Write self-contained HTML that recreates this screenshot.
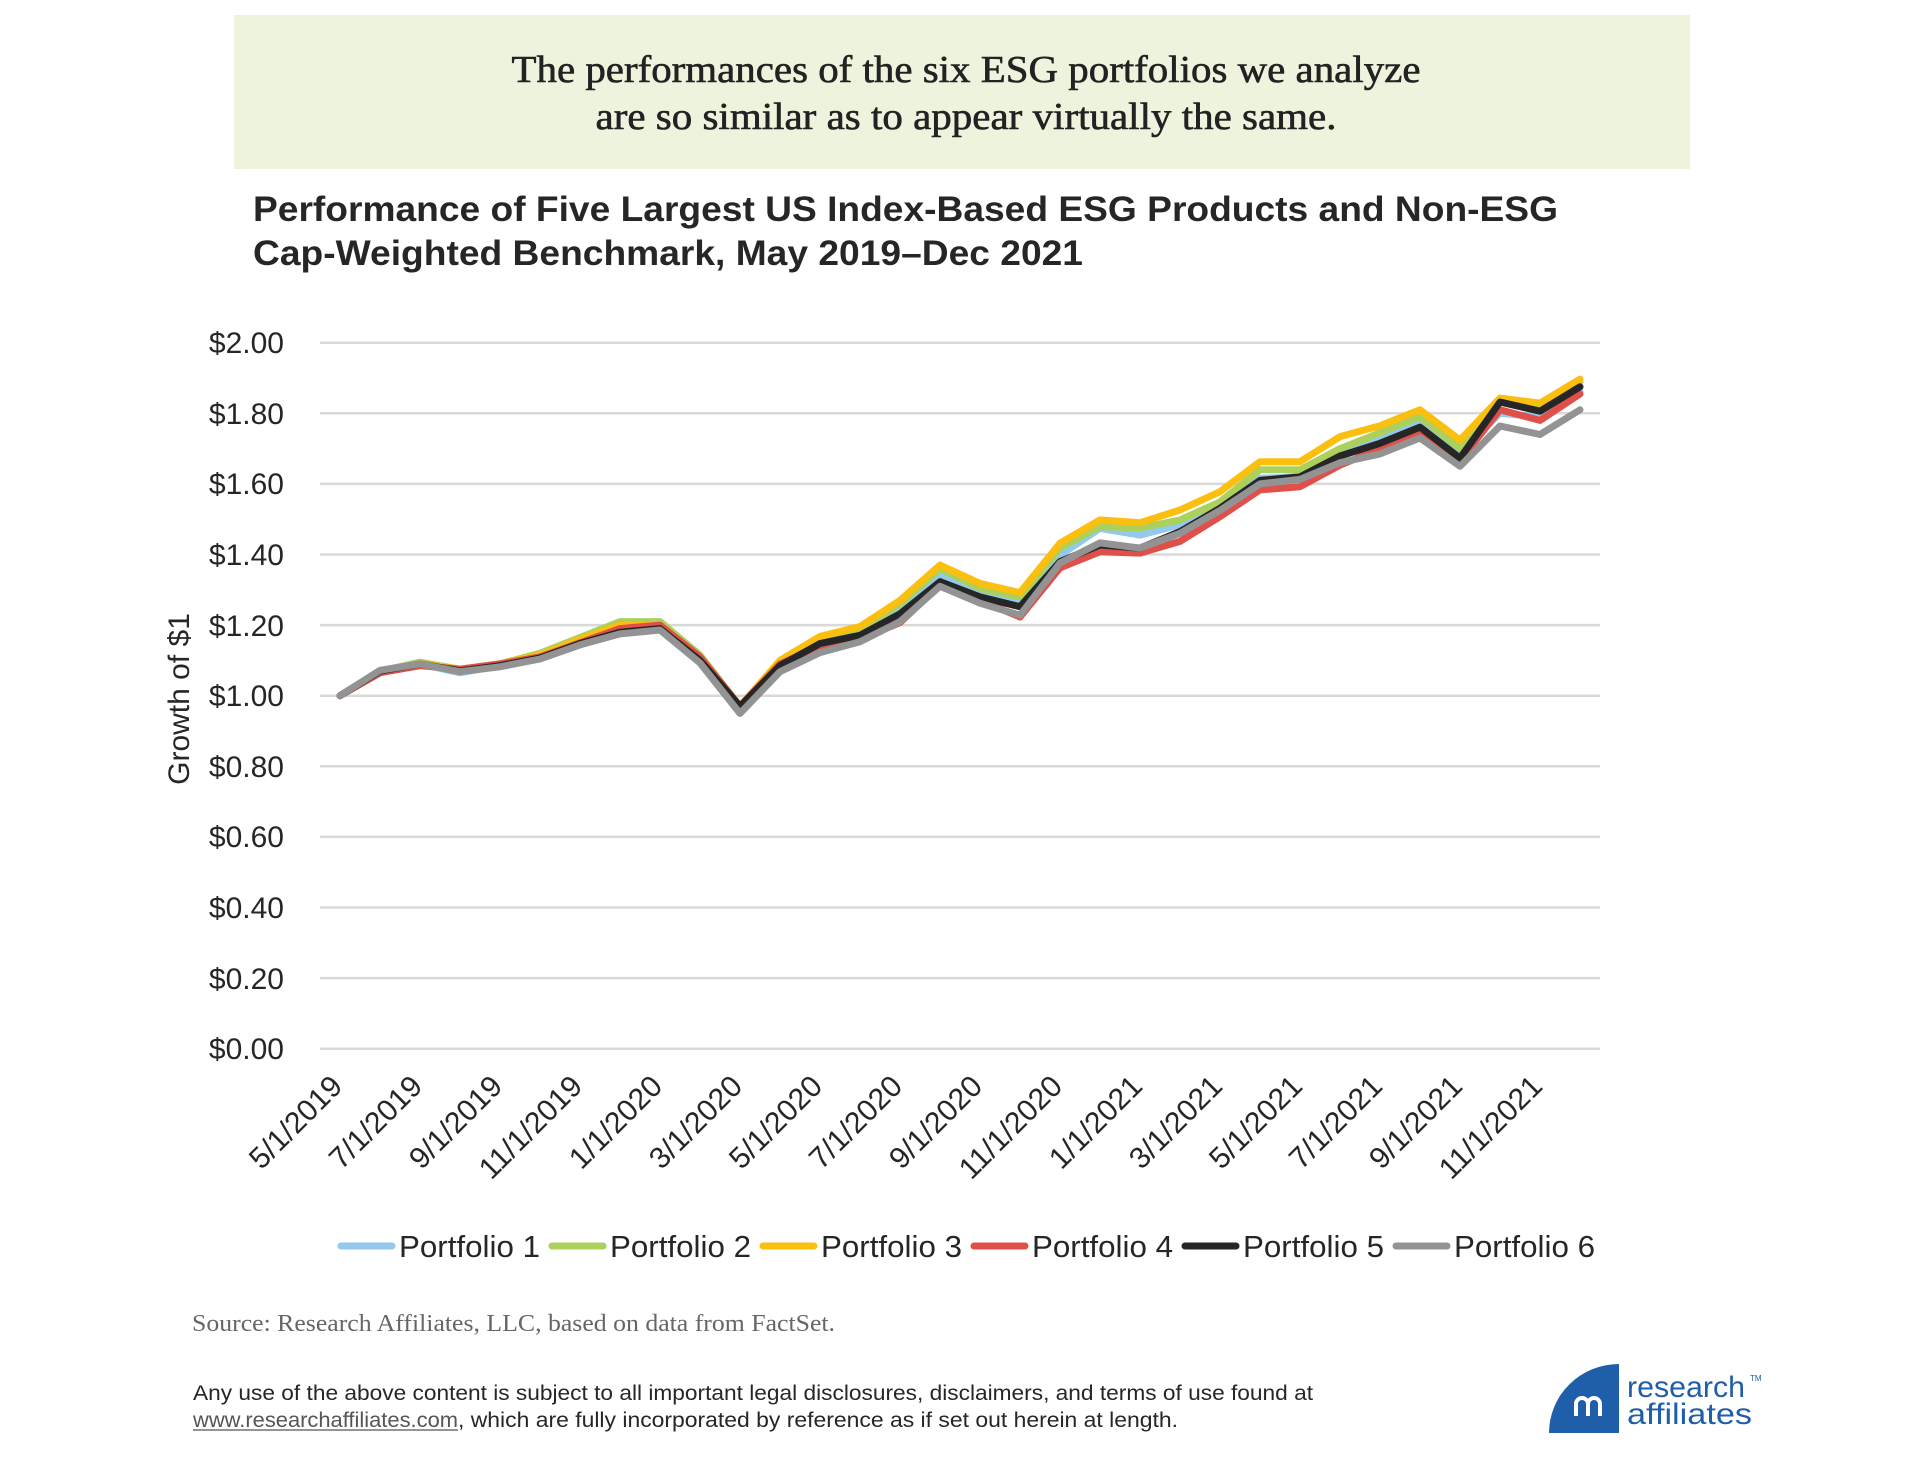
<!DOCTYPE html>
<html><head><meta charset="utf-8"><style>html,body{margin:0;padding:0;background:#fff}svg{display:block}</style></head>
<body>
<svg width="1920" height="1463" viewBox="0 0 1920 1463" xmlns="http://www.w3.org/2000/svg">
<rect x="234" y="15" width="1456" height="154" fill="#eef3de"/>
<g font-family="Liberation Serif, serif" font-size="38" fill="#222" stroke="#222" stroke-width="0.6" text-anchor="middle">
<text x="966" y="82" textLength="909" lengthAdjust="spacingAndGlyphs">The performances of the six ESG portfolios we analyze</text>
<text x="966" y="129" textLength="741" lengthAdjust="spacingAndGlyphs">are so similar as to appear virtually the same.</text>
</g>
<g font-family="Liberation Sans, sans-serif" font-size="35" font-weight="bold" fill="#262626">
<text x="253" y="221" textLength="1305" lengthAdjust="spacingAndGlyphs">Performance of Five Largest US Index-Based ESG Products and Non-ESG</text>
<text x="253" y="265" textLength="830" lengthAdjust="spacingAndGlyphs">Cap-Weighted Benchmark, May 2019–Dec 2021</text>
</g>
<g stroke="#d9d9d9" stroke-width="2.5">
<line x1="320" x2="1600" y1="342.7" y2="342.7"/><line x1="320" x2="1600" y1="413.3" y2="413.3"/>
<line x1="320" x2="1600" y1="483.9" y2="483.9"/><line x1="320" x2="1600" y1="554.5" y2="554.5"/>
<line x1="320" x2="1600" y1="625.1" y2="625.1"/><line x1="320" x2="1600" y1="695.7" y2="695.7"/>
<line x1="320" x2="1600" y1="766.3" y2="766.3"/><line x1="320" x2="1600" y1="836.9" y2="836.9"/>
<line x1="320" x2="1600" y1="907.5" y2="907.5"/><line x1="320" x2="1600" y1="978.1" y2="978.1"/>
<line x1="320" x2="1600" y1="1048.7" y2="1048.7"/>
</g>
<g font-family="Liberation Sans, sans-serif" font-size="30" fill="#262626" text-anchor="end">
<text x="284" y="353">$2.00</text><text x="284" y="424">$1.80</text><text x="284" y="494">$1.60</text>
<text x="284" y="565">$1.40</text><text x="284" y="636">$1.20</text><text x="284" y="706">$1.00</text>
<text x="284" y="777">$0.80</text><text x="284" y="847">$0.60</text><text x="284" y="918">$0.40</text>
<text x="284" y="989">$0.20</text><text x="284" y="1059">$0.00</text>
</g>
<text transform="translate(189,699) rotate(-90)" font-family="Liberation Sans, sans-serif" font-size="30" fill="#262626" text-anchor="middle">Growth of $1</text>
<g id="xl" font-family="Liberation Sans, sans-serif" font-size="30" fill="#262626" text-anchor="end"></g>
<g id="lines" fill="none" stroke-width="7" stroke-linejoin="round" stroke-linecap="round"></g>
<g font-family="Liberation Sans, sans-serif" font-size="31" fill="#262626" stroke-width="7" stroke-linecap="round">
<line x1="341" x2="392" y1="1246" y2="1246" stroke="#93c9ec"/><text x="399" y="1257" textLength="141" lengthAdjust="spacingAndGlyphs">Portfolio 1</text>
<line x1="552" x2="603" y1="1246" y2="1246" stroke="#acd05c"/><text x="610" y="1257" textLength="141" lengthAdjust="spacingAndGlyphs">Portfolio 2</text>
<line x1="763" x2="814" y1="1246" y2="1246" stroke="#fbbf0f"/><text x="821" y="1257" textLength="141" lengthAdjust="spacingAndGlyphs">Portfolio 3</text>
<line x1="974" x2="1025" y1="1246" y2="1246" stroke="#e0504a"/><text x="1032" y="1257" textLength="141" lengthAdjust="spacingAndGlyphs">Portfolio 4</text>
<line x1="1185" x2="1236" y1="1246" y2="1246" stroke="#262626"/><text x="1243" y="1257" textLength="141" lengthAdjust="spacingAndGlyphs">Portfolio 5</text>
<line x1="1396" x2="1447" y1="1246" y2="1246" stroke="#939393"/><text x="1454" y="1257" textLength="141" lengthAdjust="spacingAndGlyphs">Portfolio 6</text>
</g>
<text x="192" y="1331" font-family="Liberation Serif, serif" font-size="24" fill="#666" textLength="643" lengthAdjust="spacingAndGlyphs">Source: Research Affiliates, LLC, based on data from FactSet.</text>
<g font-family="Liberation Sans, sans-serif" font-size="21" fill="#262626">
<text x="193" y="1400" textLength="1120" lengthAdjust="spacingAndGlyphs">Any use of the above content is subject to all important legal disclosures, disclaimers, and terms of use found at</text>
<text x="193" y="1427" fill="#555" textLength="265" lengthAdjust="spacingAndGlyphs">www.researchaffiliates.com</text>
<line x1="193" x2="458" y1="1430" y2="1430" stroke="#555" stroke-width="1.2"/>
<text x="458" y="1427" textLength="720" lengthAdjust="spacingAndGlyphs">,  which are fully incorporated by reference as if set out herein at length.</text>
</g>
<path d="M1619,1364 L1619,1433 L1549,1433 A70,69 0 0 1 1619,1364 Z" fill="#1f5ea8"/>
<g fill="none" stroke="#fff" stroke-width="4">
<path d="M1576,1416 v-12 a6,6 0 0 1 12,0 v12 M1588,1404 a6,6 0 0 1 12,0 v12"/>
<path d="M1576,1404 h-2"/>
</g>
<g font-family="Liberation Sans, sans-serif" font-size="30" fill="#1f5ea8">
<text x="1627" y="1397" textLength="118" lengthAdjust="spacingAndGlyphs">research</text>
<text x="1627" y="1424" textLength="125" lengthAdjust="spacingAndGlyphs">affiliates</text>
<text x="1750" y="1381" font-size="8">TM</text>
</g>
<script>
var L=["5/1/2019","7/1/2019","9/1/2019","11/1/2019","1/1/2020","3/1/2020","5/1/2020","7/1/2020","9/1/2020","11/1/2020","1/1/2021","3/1/2021","5/1/2021","7/1/2021","9/1/2021","11/1/2021"];
var ns="http://www.w3.org/2000/svg",g=document.getElementById("xl");
L.forEach(function(s,k){var x=340+80*k+4,y=1088;var t=document.createElementNS(ns,"text");t.setAttribute("transform","translate("+x+","+y+") rotate(-45)");t.textContent=s;g.appendChild(t);});
var D=[
["#93c9ec",[1.00,1.07,1.09,1.065,1.085,1.11,1.15,1.19,1.195,1.105,0.965,1.09,1.15,1.18,1.25,1.341,1.29,1.266,1.398,1.474,1.455,1.484,1.541,1.616,1.62,1.685,1.73,1.78,1.69,1.80,1.79,1.86]],
["#acd05c",[1.00,1.07,1.095,1.075,1.09,1.12,1.165,1.21,1.21,1.115,0.97,1.095,1.155,1.19,1.26,1.36,1.304,1.28,1.418,1.479,1.475,1.498,1.549,1.64,1.64,1.70,1.745,1.79,1.70,1.835,1.82,1.89]],
["#fbbf0f",[1.00,1.07,1.09,1.075,1.09,1.115,1.16,1.20,1.20,1.11,0.97,1.10,1.168,1.196,1.27,1.37,1.318,1.292,1.432,1.498,1.49,1.526,1.578,1.663,1.663,1.734,1.765,1.81,1.724,1.843,1.829,1.897]],
["#e0504a",[1.00,1.065,1.085,1.075,1.09,1.11,1.15,1.19,1.20,1.11,0.97,1.09,1.14,1.16,1.207,1.314,1.27,1.223,1.362,1.408,1.404,1.437,1.507,1.583,1.592,1.653,1.70,1.745,1.667,1.81,1.78,1.855]],
["#262626",[1.00,1.07,1.09,1.07,1.085,1.107,1.148,1.18,1.19,1.10,0.97,1.085,1.148,1.171,1.232,1.323,1.28,1.252,1.38,1.427,1.418,1.465,1.531,1.61,1.62,1.679,1.715,1.761,1.673,1.832,1.806,1.875]],
["#939393",[1.00,1.072,1.09,1.068,1.082,1.104,1.144,1.175,1.186,1.093,0.95,1.068,1.122,1.153,1.21,1.31,1.262,1.228,1.376,1.433,1.418,1.46,1.525,1.60,1.613,1.66,1.685,1.73,1.65,1.764,1.74,1.81]]];
var lg=document.getElementById("lines");
D.forEach(function(s){var p=s[1].map(function(v,i){return (340+40*i)+","+(1048.7-353*v).toFixed(1)}).join(" ");var e=document.createElementNS(ns,"polyline");e.setAttribute("points",p);e.setAttribute("stroke",s[0]);lg.appendChild(e);});
</script>
</svg>
</body></html>
